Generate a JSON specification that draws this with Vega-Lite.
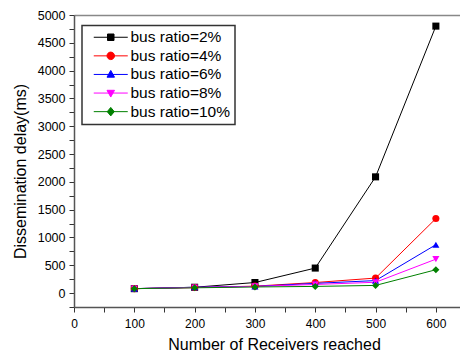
{
  "$schema": "https://vega.github.io/schema/vega-lite/v6.json",
  "width": 386,
  "height": 292,
  "autosize": "none",
  "padding": {"left": 74, "top": 15, "right": 0, "bottom": 46},
  "background": "white",
  "config": {
    "view": {"stroke": null},
    "font": "Liberation Sans",
    "legend": {"strokeWidth": 1.5},
    "axis": {"labelFont": "Liberation Sans", "titleFont": "Liberation Sans", "labelColor": "#000", "titleColor": "#000", "titleFontWeight": "normal", "grid": false}
  },
  "data": {
    "values": [
      {"receivers": 100, "delay": 80, "series": "bus ratio=2%"},
      {"receivers": 200, "delay": 105, "series": "bus ratio=2%"},
      {"receivers": 300, "delay": 190, "series": "bus ratio=2%"},
      {"receivers": 400, "delay": 450, "series": "bus ratio=2%"},
      {"receivers": 500, "delay": 2090, "series": "bus ratio=2%"},
      {"receivers": 600, "delay": 4800, "series": "bus ratio=2%"},
      {"receivers": 100, "delay": 80, "series": "bus ratio=4%"},
      {"receivers": 200, "delay": 100, "series": "bus ratio=4%"},
      {"receivers": 300, "delay": 125, "series": "bus ratio=4%"},
      {"receivers": 400, "delay": 190, "series": "bus ratio=4%"},
      {"receivers": 500, "delay": 270, "series": "bus ratio=4%"},
      {"receivers": 600, "delay": 1340, "series": "bus ratio=4%"},
      {"receivers": 100, "delay": 80, "series": "bus ratio=6%"},
      {"receivers": 200, "delay": 105, "series": "bus ratio=6%"},
      {"receivers": 300, "delay": 120, "series": "bus ratio=6%"},
      {"receivers": 400, "delay": 175, "series": "bus ratio=6%"},
      {"receivers": 500, "delay": 225, "series": "bus ratio=6%"},
      {"receivers": 600, "delay": 870, "series": "bus ratio=6%"},
      {"receivers": 100, "delay": 80, "series": "bus ratio=8%"},
      {"receivers": 200, "delay": 100, "series": "bus ratio=8%"},
      {"receivers": 300, "delay": 120, "series": "bus ratio=8%"},
      {"receivers": 400, "delay": 155, "series": "bus ratio=8%"},
      {"receivers": 500, "delay": 195, "series": "bus ratio=8%"},
      {"receivers": 600, "delay": 610, "series": "bus ratio=8%"},
      {"receivers": 100, "delay": 80, "series": "bus ratio=10%"},
      {"receivers": 200, "delay": 95, "series": "bus ratio=10%"},
      {"receivers": 300, "delay": 110, "series": "bus ratio=10%"},
      {"receivers": 400, "delay": 120, "series": "bus ratio=10%"},
      {"receivers": 500, "delay": 138, "series": "bus ratio=10%"},
      {"receivers": 600, "delay": 420, "series": "bus ratio=10%"}
    ]
  },
  "layer": [
    {
      "mark": {"type": "line", "strokeWidth": 1},
      "encoding": {
        "x": {
          "field": "receivers", "type": "quantitative",
          "scale": {"domain": [0, 640], "nice": false, "zero": false},
          "axis": {
            "orient": "bottom",
            "values": [0, 50, 100, 150, 200, 250, 300, 350, 400, 450, 500, 550, 600],
            "labelExpr": "datum.value % 100 === 0 ? datum.value : ''",
            "labelFontSize": 12, "labelPadding": 6, "labelFlush": false,
            "tickSize": 5, "tickColor": "#333", "domainColor": "#555", "domainWidth": 1.5,
            "encode": {"ticks": {"update": {"y2": {"signal": "datum.value % 100 === 0 ? 5 : 3"}}}},
            "title": "Number of Receivers reached", "titleFontSize": 16,
            "titleX": 200, "titleY": 37, "titleAlign": "center", "titleBaseline": "middle"
          }
        },
        "y": {
          "field": "delay", "type": "quantitative",
          "scale": {"domain": [-250, 5000], "nice": false, "zero": false},
          "axis": {
            "orient": "left",
            "values": [-250, 0, 250, 500, 750, 1000, 1250, 1500, 1750, 2000, 2250, 2500, 2750, 3000, 3250, 3500, 3750, 4000, 4250, 4500, 4750, 5000],
            "labelExpr": "datum.value >= 0 && datum.value % 500 === 0 ? datum.value : ''",
            "labelFontSize": 12.5, "labelPadding": 4, "labelFlush": false,
            "tickSize": 5, "tickColor": "#333", "domainColor": "#555", "domainWidth": 1.5,
            "encode": {"ticks": {"update": {"x2": {"signal": "datum.value % 500 === 0 ? -5 : -3"}}}},
            "title": "Dissemination delay(ms)", "titleFontSize": 16,
            "titleX": -54, "titleY": 156, "titleAngle": -90, "titleAlign": "center", "titleBaseline": "middle"
          }
        },
        "color": {
          "field": "series", "type": "nominal",
          "scale": {
            "domain": ["bus ratio=2%", "bus ratio=4%", "bus ratio=6%", "bus ratio=8%", "bus ratio=10%"],
            "range": ["#000000", "#ff0000", "#0000ff", "#ff00ff", "#008000"]
          },
          "legend": {
            "title": null, "orient": "none", "legendX": 8, "legendY": 10.5,
            "padding": 4, "rowPadding": 1.6,
            "strokeColor": "#333", "fillColor": "white",
            "labelFont": "Liberation Sans", "labelFontSize": 15.5, "labelColor": "#000",
            "symbolSize": 100, "symbolStrokeWidth": 1, "symbolOffset": 17, "labelOffset": 12,
            "encode": {
              "symbols": {"update": {
                "fill": {"scale": "color", "field": "value"},
                "stroke": {"scale": "color", "field": "value"},
                "fillOpacity": {"value": 1},
                "strokeOpacity": {"value": 1},
                "opacity": {"value": 1},
                "shape": {"signal": "datum.value === 'bus ratio=2%' ? 'M-3.4,0H3.4M-0.65,-0.65H0.65V0.65H-0.65Z' : datum.value === 'bus ratio=4%' ? 'M-3.4,0H3.4M0.75,0A0.75,0.75,0,1,1,-0.75,0A0.75,0.75,0,1,1,0.75,0Z' : datum.value === 'bus ratio=6%' ? 'M-3.4,0H3.4M0,-0.8L0.75,0.55H-0.75Z' : datum.value === 'bus ratio=8%' ? 'M-3.4,0H3.4M0,0.8L0.75,-0.55H-0.75Z' : 'M-3.4,0H3.4M0,-0.85L0.7,0L0,0.85L-0.7,0Z'"}
              }}
            }
          }
        }
      }
    },
    {
      "mark": {"type": "point", "filled": true, "size": 50, "opacity": 1},
      "encoding": {
        "x": {
          "field": "receivers", "type": "quantitative",
          "axis": {"orient": "top", "labels": false, "ticks": false, "title": null, "domainColor": "#888", "domainWidth": 1.5}
        },
        "y": {"field": "delay", "type": "quantitative", "axis": null},
        "color": {"field": "series", "type": "nominal"},
        "shape": {
          "field": "series", "type": "nominal",
          "scale": {
            "domain": ["bus ratio=10%", "bus ratio=2%", "bus ratio=4%", "bus ratio=6%", "bus ratio=8%"],
            "range": ["diamond", "square", "circle", "triangle-up", "triangle-down"]
          },
          "legend": null
        }
      }
    }
  ],
  "resolve": {"axis": {"x": "independent", "y": "independent"}}
}
